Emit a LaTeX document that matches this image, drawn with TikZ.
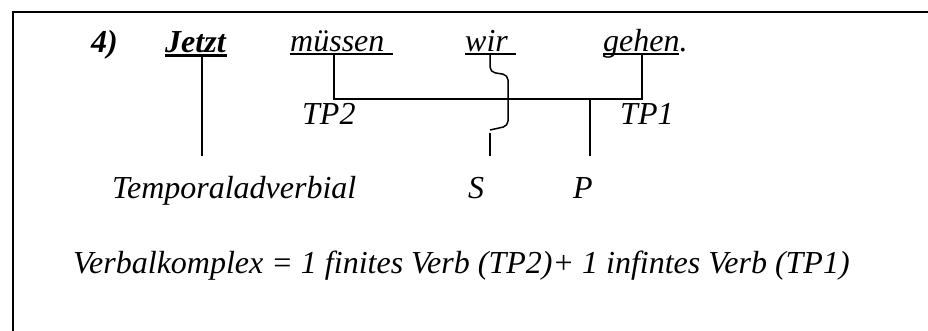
\documentclass[tikz,border=0pt]{standalone}
\usepackage{fontspec}
\setmainfont{Liberation Serif}
\begin{document}
\begin{tikzpicture}[x=1pt,y=-1pt,
  lab/.style={anchor=base west, inner sep=0pt, font=\fontsize{32}{38}\selectfont\itshape},
  blab/.style={anchor=base west, inner sep=0pt, font=\fontsize{32}{38}\selectfont\bfseries\itshape},
  ln/.style={line width=1.5pt},
  ulthick/.style={line width=3pt},
  frame/.style={line width=2pt}]
\useasboundingbox (0,0) rectangle (928,331);
% frame
\coordinate (fb) at (13,331);
\coordinate (ftl) at (13,12);
\coordinate (ftr) at (928,12);
\draw[frame] (fb) -- (ftl) -- (ftr);
% words
\node[blab] (n4) at (91,53) {4)};
\node[blab] (jetzt) at (165,53) {Jetzt};
\node[lab] (muessen) at (290,52) {müssen};
\node[lab] (wir) at (465,52) {wir};
\node[lab] (gehen) at (603,52) {gehen.};
\node[lab] (tp2) at (302,125) {TP2};
\node[lab] (tp1) at (620,125) {TP1};
\node[lab] (temp) at (112,198) {Temporaladverbial};
\node[lab] (s) at (468,198) {S};
\node[lab] (p) at (573,198) {P};
\node[lab] (vk) at (73,273) {Verbalkomplex = 1 finites Verb (TP2)+ 1 infintes Verb (TP1)};
% underline coordinates
\coordinate (jU1) at (165,56); \coordinate (jU2) at (227,56);
\coordinate (mU1) at (290,54); \coordinate (mU2) at (393,54);
\coordinate (wU1) at (465,54); \coordinate (wU2) at (516,54);
\coordinate (gU1) at (603,54); \coordinate (gU2) at (679,54);
\draw[ulthick] (jU1) -- (jU2);
\draw[ln] (mU1) -- (mU2);
\draw[ln] (wU1) -- (wU2);
\draw[ln] (gU1) -- (gU2);
% connectors
\coordinate (jTop) at (202,56); \coordinate (jBot) at (202,156);
\draw[ln] (jTop) -- (jBot);
\coordinate (mTop) at (334,54); \coordinate (mBot) at (334,99);
\coordinate (gTop) at (642,54); \coordinate (gBot) at (642,99);
\draw[ln] (mTop) -- (mBot) -- (gBot) -- (gTop);
\coordinate (pTop) at (590,99); \coordinate (pBot) at (590,156);
\draw[ln] (pTop) -- (pBot);
% brace from wir to S
\coordinate (wTop) at (490,54);
\coordinate (b1) at (490,72);
\coordinate (b2) at (508,75);
\coordinate (b3) at (508,126);
\coordinate (b4) at (490,130);
\coordinate (sTop) at (490,133);
\coordinate (sBot) at (490,156);
\draw[ln, rounded corners=5pt] (wTop) -- (b1) -- (b2) -- (b3) -- (b4);
\draw[ln] (sTop) -- (sBot);
\end{tikzpicture}
\end{document}
